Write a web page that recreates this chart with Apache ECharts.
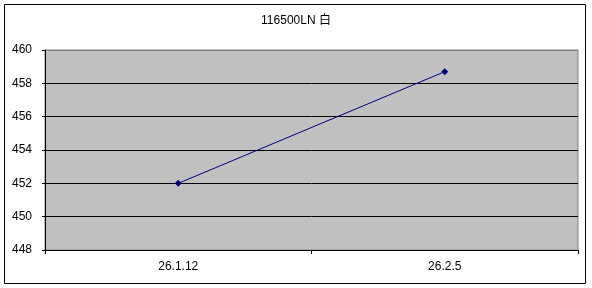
<!DOCTYPE html>
<html><head><meta charset="utf-8">
<script src="https://cdn.jsdelivr.net/npm/echarts@6/dist/echarts.min.js"></script>
<style>html,body{margin:0;padding:0;background:#fff}#c{width:592px;height:288px}</style>
</head><body><div id="c"></div>
<script>
const titleText = '116500LN 白';
const categories = ['26.1.12', '26.2.5'];
const values = [452.0, 458.7];
const yTicks = [448, 460, 2];

const chart = echarts.init(document.getElementById('c'), null, {renderer: 'canvas'});
const font = '"Liberation Sans Narrow", "Liberation Sans", "Noto Sans CJK JP", sans-serif';
chart.setOption({
  animation: false,
  backgroundColor: '#fff',
  title: {text: titleText, left: 'center', top: 10, textStyle: {fontFamily: font, fontSize: 12, fontWeight: 'normal', color: '#000'}},
  graphic: [{type: 'rect', shape: {x: 4.5, y: 4.5, width: 581, height: 279}, style: {fill: 'none', stroke: '#000', lineWidth: 1}, silent: true}],
  grid: {left: 45, right: 14, top: 50, bottom: 38, show: true, backgroundColor: '#c0c0c0', borderColor: '#808080', borderWidth: 1},
  xAxis: {
    type: 'category', data: categories, boundaryGap: true,
    axisLine: {lineStyle: {color: '#000', width: 1}},
    axisTick: {show: true, length: 4, inside: false, lineStyle: {color: '#000'}},
    axisLabel: {fontFamily: font, fontSize: 12, color: '#000', margin: 11},
    splitLine: {show: false}
  },
  yAxis: {
    type: 'value', min: yTicks[0], max: yTicks[1], interval: yTicks[2],
    axisLine: {show: true, lineStyle: {color: '#000', width: 1}},
    axisTick: {show: true, length: 3, lineStyle: {color: '#000'}},
    axisLabel: {fontFamily: font, fontSize: 12, color: '#000', margin: 13},
    splitLine: {show: true, lineStyle: {color: ['#000', '#000', '#000', '#000', '#000', '#000', '#808080'], width: 1}}
  },
  series: [{
    type: 'line', data: values,
    symbol: 'diamond', symbolSize: 7,
    itemStyle: {color: '#000080'},
    lineStyle: {color: '#000080', width: 1}
  }]
});
</script></body></html>
